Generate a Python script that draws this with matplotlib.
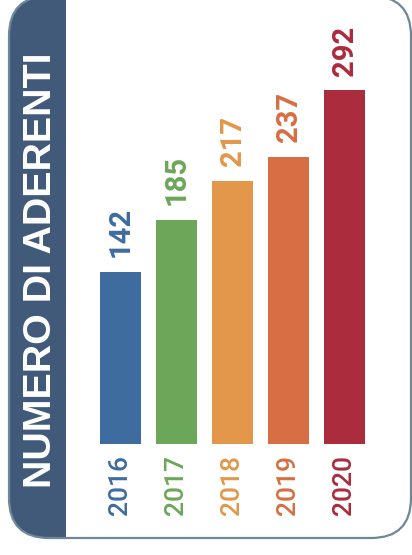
import matplotlib
matplotlib.use("Agg")
import matplotlib.pyplot as plt
from matplotlib.patches import FancyBboxPatch, Rectangle

# data
years = ["2016", "2017", "2018", "2019", "2020"]
members = [142, 185, 217, 237, 292]
colors = ["#3e6c9f", "#6ca659", "#e2974a", "#d76e44", "#aa2c3d"]
title = "NUMERO DI ADERENTI"

band_color = "#425a7a"
border_color = "#6e8799"

W, H = 412, 555
fig = plt.figure(figsize=(W / 100, H / 100), dpi=100)

# background card drawn in pixel coordinates
bg = fig.add_axes([0, 0, 1, 1])
bg.set_xlim(0, W)
bg.set_ylim(H, 0)
bg.axis("off")

card = FancyBboxPatch((9, -4), 402, 542, boxstyle="round,pad=0,rounding_size=40",
                      facecolor="white", edgecolor="none")
bg.add_patch(card)
band = Rectangle((0, -20), 66, 600, facecolor=band_color, edgecolor="none")
bg.add_patch(band)
band.set_clip_path(card)
edge = FancyBboxPatch((9, -4), 402, 542, boxstyle="round,pad=0,rounding_size=40",
                      facecolor="none", edgecolor=border_color, linewidth=1.6)
bg.add_patch(edge)

bg.text(41, 270, title, rotation=90, ha="center", va="center", color="white",
        fontsize=28.4, fontweight="bold", family=["Liberation Sans", "DejaVu Sans"])

# bars
ax = fig.add_axes([92.5 / W, 111 / H, 280 / W, 363.6 / H])
ax.set_xlim(-0.5, 4.5)
ax.set_ylim(0, 300)
ax.axis("off")
ax.patch.set_alpha(0)

x = range(len(years))
ax.bar(x, members, width=0.732, color=colors)

for i, v in enumerate(members):
    ax.annotate(str(v), (i, v), xytext=(0, 10.5), textcoords="offset points",
                rotation=90, ha="center", va="bottom", color=colors[i],
                fontsize=21, fontweight=600, family=["Roboto", "DejaVu Sans"],
                annotation_clip=False)
    ax.annotate(years[i], (i, 0), xytext=(0, -8), textcoords="offset points",
                rotation=90, ha="center", va="top", color=colors[i],
                fontsize=19, fontweight="medium", family=["Roboto", "DejaVu Sans"],
                annotation_clip=False)

fig.savefig("out.png", dpi=100)
